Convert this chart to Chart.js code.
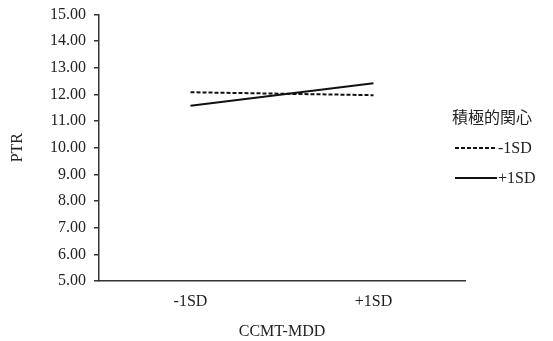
<!DOCTYPE html>
<html lang="ja">
<head>
    <meta charset="UTF-8">
    <title>PTR 交互作用</title>
    <script src="https://cdn.jsdelivr.net/npm/chart.js"></script>
    <style>
        html, body {
            margin: 0;
            padding: 0;
            background: #ffffff;
        }
        .chart-container {
            position: relative;
            width: 553px;
            height: 341px;
        }
    </style>
</head>
<body>
    <div class="chart-container">
        <canvas id="lineChart"></canvas>
    </div>

    <script>
        const categories = ['-1SD', '+1SD'];
        const seriesLabels = ['-1SD', '+1SD'];
        const lowValues = [12.08, 11.97];
        const highValues = [11.57, 12.42];
        const legendTitle = '積極的関心';
        const xTitle = 'CCMT-MDD';
        const yTitle = 'PTR';

        const serif = "'Liberation Serif', 'Times New Roman', serif";
        const cjk = "'Noto Sans CJK JP', 'Noto Sans CJK TC', sans-serif";

        // legend drawn by hand on the right side, like the original
        const sideLegend = {
            id: 'sideLegend',
            afterDraw(chart) {
                const ctx = chart.ctx;
                ctx.save();
                ctx.fillStyle = '#222';
                ctx.textBaseline = 'middle';
                ctx.textAlign = 'left';
                ctx.font = '16px ' + cjk;
                ctx.fillText(legendTitle, 452, 117);

                chart.data.datasets.forEach((ds, i) => {
                    const y = 148 + i * 30;
                    ctx.beginPath();
                    ctx.strokeStyle = ds.borderColor;
                    ctx.lineWidth = ds.borderWidth;
                    ctx.setLineDash(ds.borderDash || []);
                    ctx.moveTo(455, y);
                    ctx.lineTo(497, y);
                    ctx.stroke();
                    ctx.setLineDash([]);
                    ctx.font = '16px ' + serif;
                    ctx.fillText(ds.label, 498, y + 1);
                });
                ctx.restore();
            }
        };

        const ctx = document.getElementById('lineChart').getContext('2d');
        new Chart(ctx, {
            type: 'line',
            data: {
                labels: categories,
                datasets: [
                    {
                        label: seriesLabels[0],
                        data: lowValues,
                        borderColor: '#111',
                        borderWidth: 2,
                        borderDash: [4, 2],
                        pointRadius: 0,
                        fill: false
                    },
                    {
                        label: seriesLabels[1],
                        data: highValues,
                        borderColor: '#111',
                        borderWidth: 2,
                        pointRadius: 0,
                        fill: false
                    }
                ]
            },
            options: {
                responsive: true,
                maintainAspectRatio: false,
                animation: false,
                layout: {
                    padding: { top: 14, right: 88, left: 0, bottom: 0 }
                },
                scales: {
                    x: {
                        offset: true,
                        grid: { display: false, drawTicks: false },
                        border: { display: true, color: '#333', width: 1.5 },
                        ticks: {
                            color: '#222',
                            padding: 11,
                            font: { size: 16, family: serif }
                        },
                        title: {
                            display: true,
                            text: xTitle,
                            color: '#222',
                            padding: { top: 6, bottom: 0 },
                            font: { size: 16, family: serif }
                        },
                        afterFit(scale) {
                            scale.height = 60;
                        }
                    },
                    y: {
                        min: 5,
                        max: 15,
                        grid: {
                            drawOnChartArea: false,
                            tickLength: 5,
                            color: '#333',
                            lineWidth: 1.5
                        },
                        border: { display: true, color: '#333', width: 1.5 },
                        ticks: {
                            stepSize: 1,
                            color: '#222',
                            padding: 8,
                            font: { size: 16, family: serif, lineHeight: 0.8 },
                            callback: v => v.toFixed(2)
                        },
                        title: {
                            display: true,
                            text: yTitle,
                            color: '#222',
                            padding: { top: 8, bottom: 0 },
                            font: { size: 16, family: serif }
                        },
                        afterFit(scale) {
                            scale.width = 99;
                        }
                    }
                },
                plugins: {
                    legend: { display: false },
                    tooltip: { enabled: false }
                }
            },
            plugins: [sideLegend]
        });
    </script>
</body>
</html>
